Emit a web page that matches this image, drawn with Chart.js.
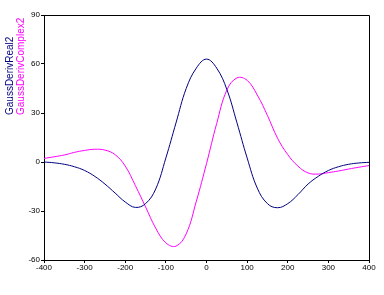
<!DOCTYPE html>
<html>
<head>
<meta charset="utf-8">
<script src="https://cdn.jsdelivr.net/npm/chart.js@4"></script>
<style>
  html, body { margin: 0; padding: 0; background: #fff; }
  #wrap { width: 384px; height: 295px; }
</style>
</head>
<body>
<div id="wrap"><canvas id="c" width="384" height="295"></canvas></div>
<script>
// x positions (shared by both series)
const xs = [-400, -375, -350, -325, -300, -275, -250, -225, -200, -175, -150, -125, -100, -75, -50, -25,
  0, 25, 50, 75, 100, 125, 150, 175, 200, 225, 250, 275, 300, 325, 350, 375, 400];

// GaussDerivReal2 — navy
const realVals = [0, -0.5, -1.4, -2.9, -5.2, -8.8, -13.5, -19, -24.5, -27.8, -25.5, -16.5, 2.5, 24, 45, 57.5,
  63, 57.5, 44.5, 24, 2.5, -16, -25.5, -28, -25.5, -20, -13.5, -8.8, -5.2, -2.9, -1.4, -0.6, -0.2];

// GaussDerivComplex2 — magenta
const complexVals = [2.2, 3.2, 4.3, 5.9, 7.1, 7.8, 7.3, 4.5, -2.5, -14.5, -27.5, -40.5, -49.5, -51.5, -44, -24,
  -1, 23.5, 44, 51.5, 50, 41, 28.5, 14.5, 4.5, -2.5, -6.7, -7.4, -6.5, -5.5, -4.3, -3.2, -2.2];

const seriesNames = ['GaussDerivReal2', 'GaussDerivComplex2'];
const seriesColors = ['#000080', '#ff00ff'];

const xTicks = [-400, -300, -200, -100, 0, 100, 200, 300, 400];
const yTicks = [-60, -30, 0, 30, 60, 90];

const toPoints = (vals) => xs.map((x, i) => ({ x, y: vals[i] }));

// box on top/right edges of the plot + rotated series titles on the left
const framePlugin = {
  id: 'frame',
  afterDraw(chart) {
    const { ctx, chartArea: a } = chart;
    ctx.save();
    ctx.strokeStyle = '#000';
    ctx.lineWidth = 1;
    ctx.beginPath();
    ctx.moveTo(Math.round(a.left) + 0.5, Math.round(a.top) + 0.5);
    ctx.lineTo(Math.round(a.right) + 0.5, Math.round(a.top) + 0.5);
    ctx.lineTo(Math.round(a.right) + 0.5, Math.round(a.bottom) + 0.5);
    ctx.stroke();

    ctx.font = '10px "Liberation Sans", Arial, sans-serif';
    ctx.textAlign = 'left';
    ctx.textBaseline = 'alphabetic';
    const cols = [13, 24];
    seriesNames.forEach((name, i) => {
      ctx.save();
      ctx.translate(cols[i], 115);
      ctx.rotate(-Math.PI / 2);
      ctx.fillStyle = seriesColors[i];
      ctx.fillText(name, 0, 0);
      ctx.restore();
    });
    ctx.restore();
  },
};

new Chart(document.getElementById('c'), {
  type: 'line',
  data: {
    datasets: [
      {
        label: seriesNames[0],
        data: toPoints(realVals),
        borderColor: seriesColors[0],
        borderWidth: 1,
        pointRadius: 0,
        tension: 0.4,
        fill: false,
      },
      {
        label: seriesNames[1],
        data: toPoints(complexVals),
        borderColor: seriesColors[1],
        borderWidth: 1,
        pointRadius: 0,
        tension: 0.4,
        fill: false,
      },
    ],
  },
  options: {
    responsive: false,
    animation: false,
    layout: { padding: { left: 0, top: 15, right: 15, bottom: 0 } },
    scales: {
      x: {
        type: 'linear',
        min: -400,
        max: 400,
        afterBuildTicks: (s) => { s.ticks = xTicks.map((v) => ({ value: v })); },
        afterFit: (s) => { s.height = 35; },
        ticks: {
          color: '#000',
          padding: 0,
          maxRotation: 0,
          font: { family: '"Liberation Sans", Arial, sans-serif', size: 8 },
        },
        grid: { drawOnChartArea: false, tickLength: 3, color: '#000' },
        border: { color: '#000', width: 1 },
      },
      y: {
        min: -60,
        max: 90,
        afterBuildTicks: (s) => { s.ticks = yTicks.map((v) => ({ value: v })); },
        afterFit: (s) => { s.width = 44; },
        ticks: {
          color: '#000',
          padding: 1,
          font: { family: '"Liberation Sans", Arial, sans-serif', size: 8 },
        },
        grid: { drawOnChartArea: false, tickLength: 3, color: '#000' },
        border: { color: '#000', width: 1 },
      },
    },
    plugins: {
      legend: { display: false },
      tooltip: { enabled: false },
    },
  },
  plugins: [framePlugin],
});
</script>
</body>
</html>
